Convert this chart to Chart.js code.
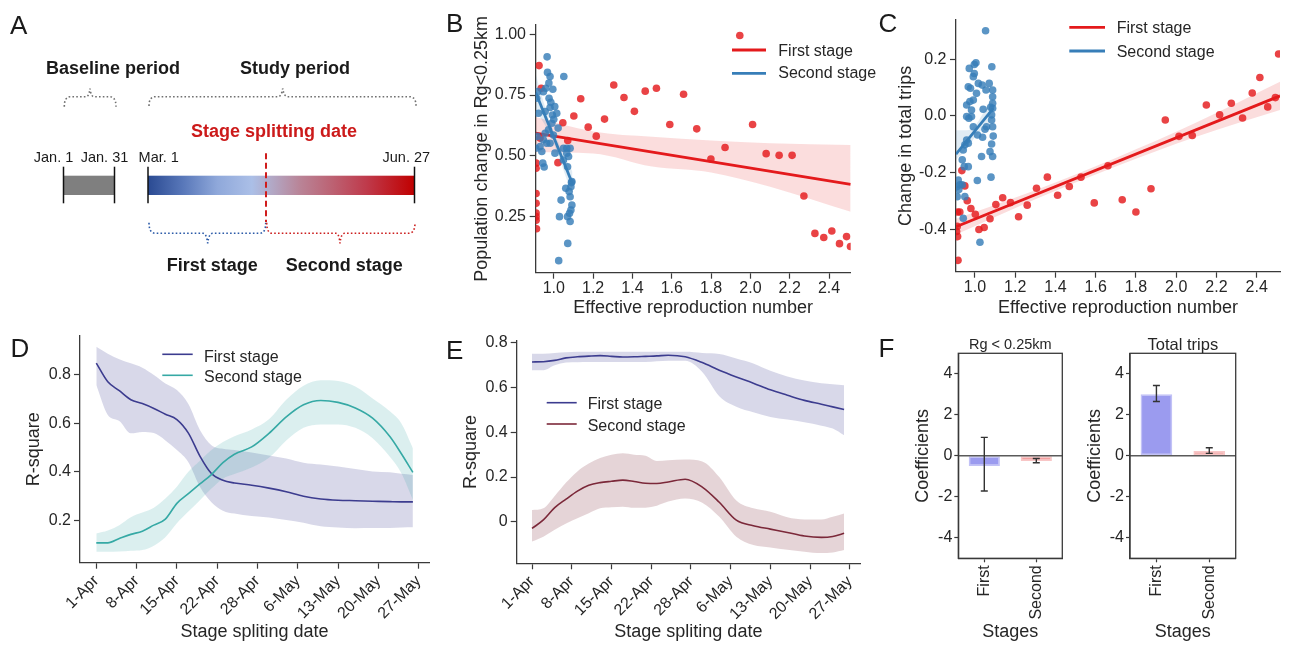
<!DOCTYPE html>
<html>
<head>
<meta charset="utf-8">
<title>Rt and mobility</title>
<script src="https://cdn.jsdelivr.net/npm/chart.js@4.4.1/dist/chart.umd.min.js"></script>
<style>
  html, body { margin: 0; background: #fff; }
  #fig { position: relative; width: 1290px; height: 645px; overflow: hidden; }
  #fig canvas { position: absolute; }
  #ov { position: absolute; left: 0; top: 0; pointer-events: none; }
</style>
</head>
<body>
<div id="fig">
  <canvas id="cB" width="420" height="320" style="left:460px;top:0"></canvas>
  <canvas id="cC" width="410" height="320" style="left:880px;top:0"></canvas>
  <canvas id="cD" width="460" height="325" style="left:0;top:320px"></canvas>
  <canvas id="cE" width="420" height="325" style="left:460px;top:320px"></canvas>
  <canvas id="cF1" width="185" height="325" style="left:880px;top:320px"></canvas>
  <canvas id="cF2" width="225" height="325" style="left:1065px;top:320px"></canvas>

  <svg id="ov" width="1290" height="645" xmlns="http://www.w3.org/2000/svg"
       font-family="Liberation Sans, Arial, sans-serif" fill="#1a1a1a">
    <defs>
      <linearGradient id="stageGrad" x1="0" x2="1" y1="0" y2="0">
        <stop offset="0" stop-color="#2a4a92"/>
        <stop offset="0.13" stop-color="#5877b9"/>
        <stop offset="0.26" stop-color="#8fa8da"/>
        <stop offset="0.39" stop-color="#abbfe7"/>
        <stop offset="0.45" stop-color="#b1adcc"/>
        <stop offset="0.57" stop-color="#b98497"/>
        <stop offset="0.69" stop-color="#bc6273"/>
        <stop offset="0.82" stop-color="#bf3a4b"/>
        <stop offset="1" stop-color="#c00000"/>
      </linearGradient>
    </defs>

    <!-- panel letters -->
    <g font-size="26">
      <text x="10" y="33.5">A</text>
      <text x="446" y="32">B</text>
      <text x="878.5" y="32">C</text>
      <text x="10.5" y="357">D</text>
      <text x="446" y="358.5">E</text>
      <text x="878.5" y="357">F</text>
    </g>

    <!-- panel A: study design sketch -->
    <g font-size="18" font-weight="bold" text-anchor="middle">
      <text x="113" y="74">Baseline period</text>
      <text x="295" y="74">Study period</text>
      <text x="274" y="136.5" fill="#cc1a1a">Stage splitting date</text>
      <text x="212.3" y="271.2">First stage</text>
      <text x="344.2" y="271.2">Second stage</text>
    </g>
    <g font-size="14.5" text-anchor="middle">
      <text x="53.5" y="162.3">Jan. 1</text>
      <text x="104.5" y="162.3">Jan. 31</text>
      <text x="158.7" y="162.3">Mar. 1</text>
      <text x="406.3" y="162.3">Jun. 27</text>
    </g>
    <g fill="none" stroke-width="1.6" stroke-dasharray="1.6 2.2">
      <path stroke="#707070" d="M64.3,106.7 Q64.3,97 70,96.7 L86,96.7 Q89,96.7 90,88.5 Q91,96.7 94,96.7 L110,96.7 Q116,97 116,106.7"/>
      <path stroke="#707070" d="M149,106 Q149,97 155,96.7 L278,96.7 Q281.5,96.7 282.7,88.5 Q284,96.7 287.5,96.7 L410,96.7 Q416,97 416,106"/>
      <path stroke="#2b5aa8" d="M149,222.7 Q149,233 155,233.3 L203,233.3 Q206.5,233.3 207.7,243.3 Q209,233.3 212.5,233.3 L260,233.3 Q265.7,233 265.7,222.7"/>
      <path stroke="#cc1f1f" d="M266.7,222.7 Q266.7,233 272,233.3 L336,233.3 Q339,233.3 340,243.3 Q341,233.3 344.5,233.3 L409,233.3 Q415,233 415,222.7"/>
    </g>
    <rect x="63.5" y="175.7" width="51" height="19.3" fill="#7f7f7f"/>
    <rect x="148" y="175.7" width="266.5" height="19.3" fill="url(#stageGrad)"/>
    <g stroke="#111" stroke-width="1.5">
      <line x1="63.5" x2="63.5" y1="166.7" y2="203.3"/>
      <line x1="114.5" x2="114.5" y1="166.7" y2="203.3"/>
      <line x1="148" x2="148" y1="166.7" y2="203.3"/>
      <line x1="414.5" x2="414.5" y1="166.7" y2="203.3"/>
    </g>
    <line x1="266" x2="266" y1="153.3" y2="222" stroke="#d01c1c" stroke-width="2" stroke-dasharray="6 3.5"/>

    <!-- legends -->
    <g font-size="16" fill="#262626">
      <line x1="732" x2="766" y1="50" y2="50" stroke="#e41a1c" stroke-width="2.8"/>
      <text x="778.3" y="55.5">First stage</text>
      <line x1="732" x2="766" y1="73.3" y2="73.3" stroke="#377eb8" stroke-width="2.8"/>
      <text x="778.3" y="78.2">Second stage</text>

      <line x1="1069.3" x2="1105" y1="27.3" y2="27.3" stroke="#e41a1c" stroke-width="2.8"/>
      <text x="1116.7" y="33.2">First stage</text>
      <line x1="1069.3" x2="1105" y1="51" y2="51" stroke="#377eb8" stroke-width="2.8"/>
      <text x="1116.7" y="57.2">Second stage</text>

      <line x1="162.3" x2="192.7" y1="354.3" y2="354.3" stroke="#3c3c8f" stroke-width="1.6"/>
      <text x="204" y="361.5">First stage</text>
      <line x1="162.3" x2="192.7" y1="375.3" y2="375.3" stroke="#36a9a5" stroke-width="1.6"/>
      <text x="204" y="381.5">Second stage</text>

      <line x1="546.7" x2="576.7" y1="402.7" y2="402.7" stroke="#3c3c8f" stroke-width="1.6"/>
      <text x="587.7" y="409.2">First stage</text>
      <line x1="546.7" x2="576.7" y1="424" y2="424" stroke="#7b2839" stroke-width="1.6"/>
      <text x="587.7" y="430.5">Second stage</text>
    </g>
    <g fill="#262626" text-anchor="middle">
      <text x="1010.3" y="349" font-size="14.5">Rg &lt; 0.25km</text>
      <text x="1182.9" y="349.8" font-size="16.5">Total trips</text>
    </g>
  </svg>
</div>

<script>
// ---------- B: population change in Rg<0.25km vs Rt ----------
const bFirst = [[0.925,0.871],[0.936,0.778],[0.930,0.573],[1.046,0.636],[1.071,0.563],[1.021,0.472],
  [1.102,0.664],[1.137,0.735],[1.175,0.618],[1.216,0.581],[1.258,0.651],[1.305,0.791],[1.357,0.740],
  [1.410,0.683],[1.465,0.766],[1.522,0.778],[1.590,0.629],[1.660,0.753],[1.727,0.611],[1.799,0.487],
  [1.871,0.534],[1.946,0.995],[2.011,0.629],[2.080,0.509],[2.146,0.502],[2.212,0.502],[2.272,0.335],
  [2.328,0.181],[2.373,0.164],[2.414,0.191],[2.453,0.139],[2.489,0.168],[2.509,0.127],
  [0.910,0.470],[0.910,0.449],[0.910,0.345],[0.910,0.305],[0.910,0.265],[0.910,0.250],[0.910,0.235],[0.912,0.200]];
const bSecond = [[0.966,0.907],[1.051,0.826],[0.968,0.843],[0.981,0.826],[0.975,0.799],[0.959,0.778],
  [0.995,0.774],[0.947,0.764],[0.976,0.737],[0.918,0.764],[1.005,0.703],[0.981,0.699],[1.015,0.675],
  [0.993,0.668],[0.956,0.682],[0.922,0.675],[1.022,0.614],[0.990,0.634],[0.956,0.593],[0.947,0.566],
  [0.930,0.538],[0.939,0.518],[0.908,0.531],[1.006,0.511],[1.049,0.531],[1.066,0.531],[1.083,0.531],
  [1.075,0.497],[0.944,0.470],[0.951,0.454],[1.070,0.455],[1.061,0.367],[1.078,0.353],[1.092,0.394],
  [1.087,0.373],[1.083,0.332],[1.037,0.318],[1.092,0.298],[1.087,0.277],[1.080,0.264],[1.029,0.250],
  [1.070,0.250],[1.083,0.230],[1.071,0.140],[1.025,0.069],[0.913,0.737],[0.973,0.607],[0.998,0.586],
  [0.981,0.552],[0.964,0.552],[1.049,0.483],[1.066,0.511],[0.985,0.720],[1.000,0.650],[1.090,0.390],[0.915,0.580]];
const bFitFirst = [[0.908,0.593],[2.51,0.383]];
const bFitSecond = [[0.908,0.760],[1.095,0.385]];
const bBandFirstX = [0.908,1.2,1.5,1.8,2.1,2.51];
const bBandFirstHi = [0.660,0.600,0.578,0.563,0.552,0.545];
const bBandFirstLo = [0.515,0.510,0.456,0.432,0.373,0.270];
const bBandSecondX = [0.908,0.96,1.0,1.05,1.095];
const bBandSecondHi = [0.835,0.690,0.600,0.510,0.435];
const bBandSecondLo = [0.685,0.620,0.550,0.440,0.335];
const bXTicks = [1.0,1.2,1.4,1.6,1.8,2.0,2.2,2.4];
const bYTicks = [0.25,0.5,0.75,1.0];

// ---------- C: change in total trips vs Rt ----------
const cFirst = [[2.509,0.219],[2.416,0.136],[2.378,0.081],[2.493,0.065],[2.455,0.032],[2.330,-0.007],
  [2.274,0.045],[2.216,0.004],[2.150,0.039],[2.080,-0.069],[2.014,-0.072],[1.946,-0.014],[1.875,-0.257],
  [1.800,-0.339],[1.732,-0.296],[1.661,-0.176],[1.593,-0.307],[1.527,-0.216],[1.469,-0.249],[1.411,-0.280],
  [1.360,-0.216],[1.306,-0.255],[1.260,-0.315],[1.217,-0.356],[1.177,-0.306],[1.138,-0.289],[1.104,-0.313],
  [1.075,-0.363],[1.046,-0.394],[1.020,-0.401],[1.002,-0.347],[0.980,-0.327],[0.962,-0.299],[0.950,-0.247],
  [0.935,-0.193],[0.925,-0.339],[0.914,-0.339],[0.912,-0.390],[0.914,-0.426],[0.909,-0.408],[0.916,-0.510]];
const cSecond = [[1.053,0.301],[1.005,0.188],[0.997,0.182],[0.972,0.168],[1.084,0.174],[0.997,0.150],
  [0.992,0.139],[1.017,0.115],[1.036,0.109],[0.967,0.103],[0.978,0.098],[1.071,0.115],[1.088,0.092],
  [1.055,0.092],[1.008,0.080],[1.088,0.068],[0.975,0.051],[0.992,0.056],[0.959,0.039],[1.088,0.045],
  [0.983,0.021],[1.041,0.024],[1.088,0.027],[0.959,-0.002],[0.970,-0.008],[0.983,-0.002],[1.083,-0.014],
  [0.992,-0.038],[1.058,-0.038],[1.088,-0.038],[1.050,-0.047],[1.091,-0.071],[1.013,-0.067],[1.038,-0.075],
  [0.959,-0.085],[0.950,-0.102],[0.967,-0.096],[1.083,-0.099],[0.942,-0.120],[0.937,-0.155],[1.075,-0.126],
  [1.088,-0.143],[1.033,-0.143],[0.947,-0.179],[0.967,-0.179],[1.080,-0.216],[1.012,-0.228],[0.917,-0.226],
  [0.925,-0.243],[0.937,-0.243],[0.950,-0.285],[0.912,-0.285],[0.942,-0.361],[1.025,-0.446],[1.078,0.031],
  [1.083,0.004],[0.910,-0.250],[0.920,-0.260]];
const cFitFirst = [[0.906,-0.391],[2.516,0.071]];
const cFitSecond = [[0.906,-0.135],[1.091,0.027]];
const cBandFirstX = [0.906,1.3,1.7,2.1,2.516];
const cBandFirstHi = [-0.363,-0.262,-0.148,-0.023,0.121];
const cBandFirstLo = [-0.419,-0.294,-0.178,-0.073,0.021];
const cBandSecondX = [0.906,0.96,1.0,1.05,1.091];
const cBandSecondHi = [-0.050,-0.050,-0.035,0.020,0.060];
const cBandSecondLo = [-0.155,-0.115,-0.075,-0.035,-0.005];
const cXTicks = [1.0,1.2,1.4,1.6,1.8,2.0,2.2,2.4];
const cYTicks = [-0.4,-0.2,0,0.2];

// ---------- D / E: R-square vs stage splitting date (day index from 1-Apr) ----------
const dayIdx = [0,2,4,6,8,10,12,14,16,18,20,22,24,27,30,33,36,39,42,45,48,51,53,55];
const dayTicks = [0,7,14,21,28,35,42,49,56];
const dayLabels = ['1-Apr','8-Apr','15-Apr','22-Apr','28-Apr','6-May','13-May','20-May','27-May'];

const dFirst   = [0.849,0.772,0.735,0.698,0.682,0.662,0.638,0.616,0.560,0.465,0.393,0.365,0.354,0.345,0.333,0.318,0.299,0.288,0.283,0.281,0.279,0.277,0.276,0.276];
const dFirstHi = [0.917,0.888,0.865,0.848,0.830,0.800,0.765,0.738,0.680,0.573,0.510,0.495,0.490,0.480,0.468,0.455,0.438,0.430,0.422,0.412,0.402,0.398,0.392,0.387];
const dFirstLo = [0.759,0.635,0.610,0.559,0.565,0.560,0.530,0.490,0.440,0.339,0.275,0.240,0.228,0.218,0.212,0.201,0.190,0.175,0.170,0.167,0.168,0.168,0.170,0.171];
const dSecond   = [0.107,0.107,0.125,0.142,0.155,0.180,0.205,0.270,0.310,0.350,0.389,0.438,0.473,0.503,0.559,0.627,0.677,0.695,0.687,0.664,0.622,0.546,0.475,0.398];
const dSecondHi = [0.146,0.158,0.180,0.213,0.232,0.252,0.290,0.339,0.400,0.446,0.490,0.523,0.547,0.575,0.617,0.698,0.756,0.778,0.775,0.752,0.703,0.650,0.600,0.498];
const dSecondLo = [0.070,0.070,0.071,0.074,0.077,0.095,0.130,0.188,0.236,0.283,0.331,0.372,0.391,0.418,0.458,0.530,0.582,0.596,0.596,0.582,0.539,0.462,0.394,0.284];
const dYTicks = [0.2,0.4,0.6,0.8];

const eFirst   = [0.715,0.716,0.722,0.733,0.738,0.741,0.743,0.740,0.737,0.738,0.740,0.742,0.745,0.738,0.712,0.678,0.648,0.620,0.590,0.566,0.543,0.526,0.514,0.502];
const eFirstHi = [0.752,0.752,0.755,0.758,0.760,0.760,0.760,0.760,0.760,0.760,0.760,0.760,0.760,0.760,0.755,0.750,0.730,0.708,0.675,0.650,0.632,0.620,0.615,0.611];
const eFirstLo = [0.678,0.678,0.700,0.712,0.714,0.715,0.715,0.715,0.715,0.715,0.715,0.718,0.720,0.720,0.670,0.562,0.515,0.490,0.469,0.457,0.445,0.430,0.417,0.387];
const eSecond   = [-0.030,0.008,0.063,0.101,0.137,0.163,0.175,0.181,0.186,0.180,0.172,0.171,0.178,0.190,0.155,0.087,0.007,-0.018,-0.033,-0.048,-0.064,-0.070,-0.066,-0.052];
const eSecondHi = [0.052,0.060,0.115,0.175,0.225,0.260,0.285,0.300,0.306,0.300,0.295,0.272,0.275,0.279,0.270,0.200,0.095,0.060,0.045,0.020,0.010,0.010,0.022,0.037];
const eSecondLo = [-0.089,-0.067,-0.036,-0.008,0.016,0.038,0.060,0.065,0.067,0.062,0.063,0.072,0.090,0.104,0.085,0.022,-0.067,-0.104,-0.115,-0.125,-0.134,-0.140,-0.138,-0.127];
const eYTicks = [0,0.2,0.4,0.6,0.8];

// ---------- F: regression coefficients per stage ----------
const stages = ['First','Second'];
const fRg = [-0.50,-0.25];
const fRgLo = [-1.72,-0.34];
const fRgHi = [0.90,-0.13];
const fTrips = [3.00,0.23];
const fTripsLo = [2.65,0.12];
const fTripsHi = [3.43,0.39];
const fYTicks = [-4,-2,0,2,4];

// ---------- styling ----------
const INK = '#262626', AX = '#3a3a3a';
const RED = '#e41a1c', BLUE = '#377eb8';
Chart.defaults.font.family = '"Liberation Sans", Arial, sans-serif';
Chart.defaults.font.size = 16;
Chart.defaults.color = INK;

const pts = a => a.map(([x, y]) => ({ x, y }));
const zip = (xs, ys) => xs.map((x, i) => ({ x, y: ys[i] }));

function axis(pos, size, min, max, ticks, fmt, title, titlePad, extra = {}) {
  return {
    type: 'linear', position: pos, min, max,
    afterBuildTicks: s => { s.ticks = ticks.map(v => ({ value: v })); },
    afterFit: s => { if (pos === 'left') s.width = size; else s.height = size; },
    ticks: { callback: fmt, autoSkip: false, padding: extra.pad ?? 3,
             minRotation: extra.rot ?? 0, maxRotation: extra.rot ?? 0, color: INK, font: { size: 16 } },
    grid: { drawOnChartArea: false, tickLength: extra.tl ?? 6, tickColor: AX, tickWidth: 1.2 },
    border: { color: AX, width: 1.3 },
    title: { display: true, text: title, color: INK, font: { size: 18 }, padding: { top: titlePad, bottom: titlePad } }
  };
}

function band(xs, ys, color, order) {
  return { type: 'line', data: zip(xs, ys), fill: color ? '+1' : false, backgroundColor: color || 'transparent',
           borderWidth: 0, borderColor: 'transparent', pointRadius: 0, cubicInterpolationMode: 'monotone', order, clip: 0 };
}
function dots(a, color, order) {
  return { type: 'scatter', data: pts(a), backgroundColor: color, borderWidth: 0, pointRadius: 3.8, pointHoverRadius: 3.8, order, clip: 0 };
}
function fit(a, color, order) {
  return { type: 'line', data: pts(a), borderColor: color, borderWidth: 2.8, pointRadius: 0, fill: false, order, clip: 0 };
}
function curve(ys, color, order) {
  return { data: zip(dayIdx, ys), borderColor: color, borderWidth: 1.6, pointRadius: 0, fill: false,
           cubicInterpolationMode: 'monotone', order, clip: 0 };
}
function dayBand(ys, color, order) { return band(dayIdx, ys, color, order); }

const base = { responsive: false, animation: false,
  plugins: { legend: { display: false }, tooltip: { enabled: false } } };

new Chart(document.getElementById('cB'), {
  type: 'scatter',
  data: { datasets: [
    band(bBandFirstX, bBandFirstHi, 'rgba(228,26,28,0.15)', 9), band(bBandFirstX, bBandFirstLo, null, 9),
    dots(bFirst, 'rgba(228,26,28,0.82)', 8), fit(bFitFirst, RED, 7),
    band(bBandSecondX, bBandSecondHi, 'rgba(55,126,184,0.15)', 6), band(bBandSecondX, bBandSecondLo, null, 6),
    dots(bSecond, 'rgba(55,126,184,0.82)', 5), fit(bFitSecond, BLUE, 4)
  ] },
  options: { ...base,
    layout: { padding: { left: 0, top: 25, right: 29.3, bottom: 0 } },
    scales: {
      x: axis('bottom', 47.3, 0.908, 2.51, bXTicks, v => v.toFixed(1), 'Effective reproduction number', 1, { pad: 0 }),
      y: axis('left', 75.7, 0.0195, 1.038, bYTicks, v => v.toFixed(2), 'Population change in Rg<0.25km', 10.9, { pad: 3.7 })
    } }
});

new Chart(document.getElementById('cC'), {
  type: 'scatter',
  data: { datasets: [
    band(cBandFirstX, cBandFirstHi, 'rgba(228,26,28,0.15)', 9), band(cBandFirstX, cBandFirstLo, null, 9),
    dots(cFirst, 'rgba(228,26,28,0.82)', 8), fit(cFitFirst, RED, 7),
    band(cBandSecondX, cBandSecondHi, 'rgba(55,126,184,0.15)', 6), band(cBandSecondX, cBandSecondLo, null, 6),
    dots(cSecond, 'rgba(55,126,184,0.82)', 5), fit(cFitSecond, BLUE, 4)
  ] },
  options: { ...base,
    layout: { padding: { left: 0, top: 20, right: 10, bottom: 0 } },
    scales: {
      x: axis('bottom', 48.3, 0.906, 2.516, cXTicks, v => v.toFixed(1), 'Effective reproduction number', 1, { pad: 0 }),
      y: axis('left', 76, -0.55, 0.339, cYTicks, v => v.toFixed(1), 'Change in total trips', 15, { pad: 3.5 })
    } }
});

const dayFmt = v => dayLabels[dayTicks.indexOf(v)];

new Chart(document.getElementById('cD'), {
  type: 'line',
  data: { datasets: [
    dayBand(dFirstHi, 'rgba(60,60,143,0.2)', 5), dayBand(dFirstLo, null, 5),
    dayBand(dSecondHi, 'rgba(54,169,165,0.18)', 4), dayBand(dSecondLo, null, 4),
    curve(dFirst, '#3c3c8f', 1), curve(dSecond, '#36a9a5', 0)
  ] },
  options: { ...base,
    layout: { padding: { left: 0, top: 16, right: 31, bottom: 0 } },
    scales: {
      x: axis('bottom', 82.3, -2.83, 57.8, dayTicks, dayFmt, 'Stage spliting date', 2, { rot: 45 }),
      y: axis('left', 80, 0.025, 0.961, dYTicks, v => v.toFixed(1), 'R-square', 23.4)
    } }
});

new Chart(document.getElementById('cE'), {
  type: 'line',
  data: { datasets: [
    dayBand(eFirstHi, 'rgba(60,60,143,0.2)', 5), dayBand(eFirstLo, null, 5),
    dayBand(eSecondHi, 'rgba(123,40,57,0.2)', 4), dayBand(eSecondLo, null, 4),
    curve(eFirst, '#3c3c8f', 1), curve(eSecond, '#7b2839', 0)
  ] },
  options: { ...base,
    layout: { padding: { left: 0, top: 20.7, right: 20, bottom: 0 } },
    scales: {
      x: axis('bottom', 81.7, -2.7, 57.8, dayTicks, dayFmt, 'Stage spliting date', 2, { rot: 45 }),
      y: axis('left', 56.7, -0.186, 0.81, eYTicks, v => (v === 0 ? '0' : v.toFixed(1)), 'R-square', 0.4)
    } }
});

// box, zero line and error bars for the coefficient panels
const coefDecor = {
  id: 'coefDecor',
  afterDatasetsDraw(chart, args, opts) {
    const { ctx, chartArea: a, scales: { y } } = chart;
    ctx.save();
    ctx.strokeStyle = '#5a5a5a'; ctx.lineWidth = 1.5;
    const y0 = y.getPixelForValue(0);
    ctx.beginPath(); ctx.moveTo(a.left, y0); ctx.lineTo(a.right, y0); ctx.stroke();
    ctx.strokeStyle = '#333'; ctx.lineWidth = 1.4;
    chart.getDatasetMeta(0).data.forEach((bar, i) => {
      const lo = y.getPixelForValue(opts.lo[i]), hi = y.getPixelForValue(opts.hi[i]);
      ctx.beginPath();
      ctx.moveTo(bar.x, lo); ctx.lineTo(bar.x, hi);
      ctx.moveTo(bar.x - 3.5, lo); ctx.lineTo(bar.x + 3.5, lo);
      ctx.moveTo(bar.x - 3.5, hi); ctx.lineTo(bar.x + 3.5, hi);
      ctx.stroke();
    });
    ctx.strokeStyle = AX; ctx.lineWidth = 1.3;
    ctx.strokeRect(a.left, a.top, a.right - a.left, a.bottom - a.top);
    ctx.restore();
  }
};

function coefChart(id, vals, lo, hi, yW, rightPad, yTitlePad) {
  new Chart(document.getElementById(id), {
    type: 'bar',
    data: { labels: stages, datasets: [{ data: vals,
      backgroundColor: ['#9b9bef', '#f2a0a0'], borderColor: ['#c2c2f6', '#f8c6c6'],
      borderWidth: 1.5, borderSkipped: false, barPercentage: 0.6, categoryPercentage: 1 }] },
    options: { ...base,
      layout: { padding: { left: 0, top: 33.3, right: rightPad, bottom: 0 } },
      plugins: { ...base.plugins, coefDecor: { lo, hi } },
      scales: {
        x: { type: 'category', position: 'bottom', offset: true,
             afterFit: s => { s.height = 86.7; },
             ticks: { autoSkip: false, minRotation: 90, maxRotation: 90, padding: 3, color: INK, font: { size: 16 } },
             grid: { offset: false, drawOnChartArea: false, tickLength: 4, tickColor: AX, tickWidth: 1.2 },
             border: { color: AX, width: 1.3 },
             title: { display: true, text: 'Stages', color: INK, font: { size: 18 }, padding: { top: 2, bottom: 2 } } },
        y: axis('left', yW, -5, 5, fYTicks, v => String(v), 'Coefficients', yTitlePad, { tl: 4, pad: 2 })
      } },
    plugins: [coefDecor]
  });
}

coefChart('cF1', fRg, fRgLo, fRgHi, 78.3, 2.7, 32.2);
coefChart('cF2', fTrips, fTripsLo, fTripsHi, 65, 54.3, 19.5);
</script>
</body>
</html>
